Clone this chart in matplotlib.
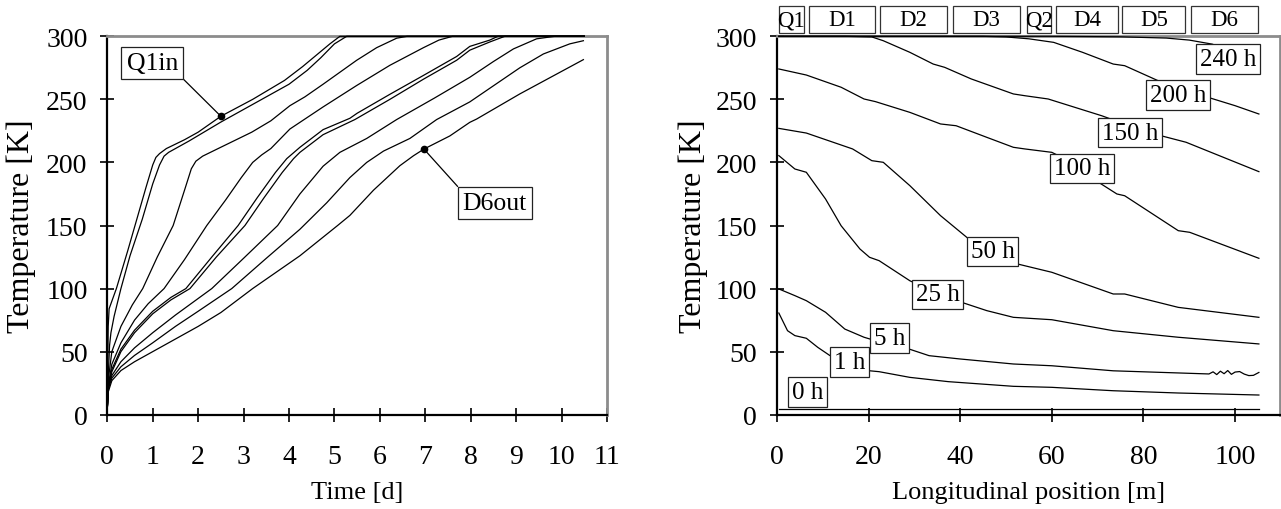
import matplotlib
matplotlib.use('Agg')
import matplotlib.pyplot as plt
from matplotlib.patches import Rectangle
from matplotlib.transforms import blended_transform_factory

plt.rcParams['font.family'] = ['Liberation Serif', 'DejaVu Serif']

# ---------------- Left chart data: temperature vs time at magnet ends ----------------
c1_t = [0, 0.01, 0.02, 0.04, 0.1, 0.2, 0.3, 0.45, 0.65, 0.85, 1.0, 1.07, 1.15, 1.3, 1.7, 2.0, 2.5, 3.2, 3.9, 4.3, 4.6, 4.9, 5.12, 10.5]
c1_T = [5, 40, 70, 84, 90, 100, 112, 130, 155, 180, 198, 204, 207, 211, 218, 224, 236.6, 250, 265, 276, 285, 294, 300, 300]
c2_t = [0, 0.02, 0.05, 0.08, 0.15, 0.3, 0.5, 0.77, 1.0, 1.15, 1.25, 1.35, 1.5, 1.8, 2.5, 3.3, 4.0, 4.4, 4.7, 5.0, 5.27, 10.5]
c2_T = [5, 30, 55, 65, 78, 100, 126, 155, 183, 198, 205, 208, 211, 217, 232, 248, 262, 273, 283, 294, 300, 300]
c3_t = [0, 0.03, 0.1, 0.3, 0.55, 0.78, 1.1, 1.45, 1.7, 1.85, 1.95, 2.1, 2.44, 3.18, 3.6, 4.02, 4.35, 4.75, 5.49, 5.93, 6.37, 6.6, 10.5]
c3_T = [5, 30, 50, 70, 87, 100, 125, 150, 178, 195, 201, 205, 211, 224, 233, 245, 252, 262, 281, 291, 298.5, 300, 300]
c4_t = [0, 0.03, 0.1, 0.3, 0.6, 0.9, 1.25, 1.7, 2.19, 2.6, 2.95, 3.2, 3.4, 3.6, 4.02, 4.75, 5.49, 6.22, 6.96, 7.3, 7.6, 10.5]
c4_T = [5, 25, 40, 57, 75, 88, 100, 123, 150, 170, 188, 200, 206, 211, 226.5, 244, 261, 277, 291, 297, 300, 300]
c5_t = [0, 0.03, 0.1, 0.3, 0.6, 1.0, 1.4, 1.73, 2.3, 2.88, 3.3, 3.7, 3.95, 4.24, 4.75, 5.34, 5.5, 6.22, 6.96, 7.69, 7.98, 8.42, 8.6, 10.5]
c5_T = [5, 24, 36, 52, 67, 82, 93, 100, 125, 150, 172, 192, 203, 212, 226, 235, 239, 254, 269, 284, 292, 297, 300, 300]
c6_t = [0, 0.03, 0.1, 0.3, 0.6, 1.0, 1.4, 1.82, 2.4, 3.03, 3.45, 3.85, 4.1, 4.24, 4.75, 5.45, 6.22, 6.96, 7.69, 7.98, 8.42, 8.75, 10.5]
c6_T = [5, 22, 34, 50, 65, 80, 91, 100, 125, 150, 172, 192, 203, 208, 222, 234, 250, 266, 281, 289, 295.5, 300, 300]
c7_t = [0, 0.02, 0.1, 0.3, 0.6, 1.0, 1.5, 2.3, 3.0, 3.75, 4.24, 4.75, 5.12, 5.71, 6.37, 7.2, 7.98, 8.5, 8.94, 9.45, 9.85, 10.5]
c7_T = [5, 22, 31, 42, 53, 65, 79, 100, 124, 150, 175, 197, 208, 219, 234, 251, 267.5, 280, 290, 298, 300, 300]
c8_t = [0, 0.02, 0.1, 0.3, 0.6, 1.0, 1.5, 2.0, 2.74, 3.5, 4.24, 4.83, 5.34, 5.71, 6.08, 6.66, 7.25, 7.98, 9.08, 9.6, 10.18, 10.48]
c8_T = [5, 20, 29, 38, 47, 57, 70, 82, 100, 124, 147, 168, 188, 200, 209, 219, 234, 248, 275, 286, 294, 296.5]
c9_t = [0, 0.02, 0.1, 0.3, 0.6, 1.0, 1.5, 2.0, 2.5, 3.2, 4.24, 4.61, 5.07, 5.34, 5.86, 6.44, 6.74, 6.97, 7.54, 7.98, 8.13, 9.08, 10.48]
c9_T = [5, 18, 27, 35, 42, 50, 60, 70, 81, 100, 126, 136.7, 150, 158, 178, 197.4, 205.3, 210.6, 221, 231.8, 234.4, 254.3, 281.5]

left_curves = [(c1_t, c1_T), (c2_t, c2_T), (c3_t, c3_T), (c4_t, c4_T), (c5_t, c5_T),
               (c6_t, c6_T), (c7_t, c7_T), (c8_t, c8_T), (c9_t, c9_T)]

left_labels = ["Q1in", "D6out"]
left_label_points = [(2.5, 236.6), (6.97, 210.6)]
left_label_text_pos = [(0.99, 279.0), (8.53, 167.8)]
left_label_relpos = [(1.0, 0.0), (0.0, 1.0)]

left_xticks = list(range(0, 12))
yticks = [0, 50, 100, 150, 200, 250, 300]

# ---------------- Right chart data: temperature profile along the string ----------------
r0_x = [0.5, 105.2]
r0_T = [4.5, 4.5]
r1_x = [0.4, 2.3, 3.9, 6.4, 8.9, 11.5, 14, 17, 20, 22.3, 29, 37.4, 51.6, 60, 73.4, 87.6, 105.2]
r1_T = [80.6, 66.6, 62.7, 60.6, 53.4, 47, 43, 38.5, 34.9, 34.1, 29.6, 26.2, 22.5, 21.7, 19, 17.2, 15.6]
r5_x = [0.4, 3.9, 6.4, 10.6, 14.8, 19, 24, 28.8, 33.2, 39.9, 51.6, 60, 73.4, 94.3, 95.2, 96, 96.8,
        97.6, 98.4, 99.2, 100, 101, 102, 103, 104, 105.2]
r5_T = [99.7, 94.4, 90.4, 81.2, 67.9, 61.4, 56, 52.1, 46.8, 44.2, 40.2, 38.8, 34.8, 32.3, 34, 31.8, 34.5,
        32.5, 35, 32, 33.8, 34.2, 32.2, 31, 31.2, 33.5]
r25_x = [0.4, 3.9, 6.4, 10.6, 14, 18.1, 20.2, 22.3, 29, 35, 40.3, 45.8, 51.6, 60, 73.4, 87.6, 105.2]
r25_T = [205.4, 194.8, 192.2, 171, 149.8, 131.4, 124.8, 122.1, 106.2, 96, 89.1, 82.5, 77.2, 75.3, 66.6, 61.4, 56.1]
r50_x = [0.4, 6.4, 16.5, 20.7, 23.2, 29, 35.7, 41.7, 47, 52.5, 60, 73.4, 75.9, 87.6, 105.2]
r50_T = [227, 223.3, 210.7, 201.4, 200.1, 181.6, 157.8, 139.8, 128, 119.5, 112.9, 95.7, 95.7, 85.1, 77.2]
r100_x = [0.4, 6.4, 14, 19, 21.5, 29, 35.7, 39.1, 45.8, 51.6, 54.1, 60, 66.6, 70, 74.2, 75.9, 87.6, 90.1, 105.2]
r100_T = [274.1, 269.3, 259.6, 250.3, 248.2, 239.7, 230.5, 229.1, 219.9, 212, 210.7, 208, 196, 184.7, 175,
          173.6, 145.9, 144.6, 124]
r150_x = [0.4, 15, 20.7, 23.2, 29, 34.1, 36.6, 42.4, 51.6, 54.1, 59.2, 70.9, 77, 83.8, 89.3, 105.2]
r150_T = [300, 300, 299.5, 296.5, 287.3, 278, 275.4, 266.2, 254.3, 252.9, 250.3, 237, 229, 221.2, 216, 192.7]
r200_x = [0.4, 45, 50, 55, 60.4, 66.7, 73.4, 75.9, 83.2, 88, 94.1, 100, 105.2]
r200_T = [300, 300, 299.5, 298, 295.2, 287.3, 278, 276.7, 264.8, 258, 251.6, 245, 238.4]
r240_x = [0.4, 60, 75, 85, 90, 95, 100, 105.2]
r240_T = [300, 300, 299.6, 298.6, 297, 293.8, 287.5, 280.7]

right_curves = [(r0_x, r0_T), (r1_x, r1_T), (r5_x, r5_T), (r25_x, r25_T), (r50_x, r50_T),
                (r100_x, r100_T), (r150_x, r150_T), (r200_x, r200_T), (r240_x, r240_T)]
right_labels = ["0 h", "1 h", "5 h", "25 h", "50 h", "100 h", "150 h", "200 h", "240 h"]
right_label_pos = [(6.7, 18.0), (15.8, 41.8), (24.6, 60.8), (35.1, 95.3), (47.1, 129.4),
                   (66.6, 195.2), (77.1, 223.7), (87.6, 253.5), (98.5, 282.0)]

magnet_names = ["Q1", "D1", "D2", "D3", "Q2", "D4", "D5", "D6"]
magnet_start = [0.4, 7.0, 22.5, 38.4, 54.6, 60.9, 75.4, 90.4]
magnet_end = [5.9, 21.4, 37.1, 53.1, 59.9, 74.5, 89.1, 104.9]

right_xticks = [0, 20, 40, 60, 80, 100]

# ---------------- Figure ----------------
fig = plt.figure(figsize=(12.81, 5.10), dpi=100)
axL = fig.add_axes([0.08376, 0.1849, 0.39009, 0.74196])
axR = fig.add_axes([0.60656, 0.1849, 0.39227, 0.74196])

TICK_FS = 20
LABEL_FS = 19
YLABEL_FS = 23


def style(ax):
    for s in ['left', 'bottom']:
        ax.spines[s].set_color('black')
        ax.spines[s].set_linewidth(1.6)
    for s in ['top', 'right']:
        ax.spines[s].set_color('#8c8c8c')
        ax.spines[s].set_linewidth(2.0)
    ax.tick_params(direction='inout', length=10.5, width=1.2, labelsize=TICK_FS,
                   top=False, right=False, colors='black')
    ax.tick_params(axis='x', pad=16)
    ax.tick_params(axis='y', pad=9)
    ax.set_ylim(0, 300)
    ax.set_yticks(yticks)


style(axL)
style(axR)

# Left chart
for t, T in left_curves:
    axL.plot(t, T, color='black', lw=0.9, clip_on=False, zorder=3)
axL.set_xlim(0, 11)
axL.set_xticks(left_xticks)
axL.set_xlabel('Time [d]', fontsize=LABEL_FS, va='center')
axL.xaxis.set_label_coords(0.5, -0.204)
axL.set_ylabel('Temperature [K]', fontsize=YLABEL_FS, va='center')
axL.yaxis.set_label_coords(-0.172, 0.5)

box = dict(boxstyle='square,pad=0.15', fc='white', ec='#222222', lw=0.9)
for lab, pt, tp, rp in zip(left_labels, left_label_points, left_label_text_pos, left_label_relpos):
    axL.annotate(lab, xy=pt, xytext=tp, fontsize=18.5, ha='center', va='center',
                 bbox=dict(boxstyle='square,pad=0.2', fc='white', ec='#222222', lw=0.9),
                 arrowprops=dict(arrowstyle='-', color='black', lw=0.9, relpos=rp,
                                 shrinkA=0, shrinkB=0), zorder=5)
    axL.plot([pt[0]], [pt[1]], 'o', color='black', ms=4.5, zorder=6)

# Right chart
for x, T in right_curves:
    axR.plot(x, T, color='black', lw=0.9, clip_on=False, zorder=3)
axR.set_xlim(0, 109.7)
axR.set_xticks(right_xticks)
axR.set_xlabel('Longitudinal position [m]', fontsize=LABEL_FS, va='center')
axR.xaxis.set_label_coords(0.5, -0.204)
axR.set_ylabel('Temperature [K]', fontsize=YLABEL_FS, va='center')
axR.yaxis.set_label_coords(-0.166, 0.5)

for lab, (x, y) in zip(right_labels, right_label_pos):
    axR.text(x, y, lab, fontsize=18, ha='center', va='center', bbox=box, zorder=5)

trans = blended_transform_factory(axR.transData, axR.transAxes)
for name, x0, x1 in zip(magnet_names, magnet_start, magnet_end):
    axR.add_patch(Rectangle((x0, 1.0087), x1 - x0, 0.0714, transform=trans, fc='white',
                            ec='#333333', lw=0.9, clip_on=False))
    axR.text((x0 + x1) / 2, 1.0444, name, transform=trans, fontsize=16.5, ha='center',
             va='center')

fig.savefig('out.png', dpi=100)
